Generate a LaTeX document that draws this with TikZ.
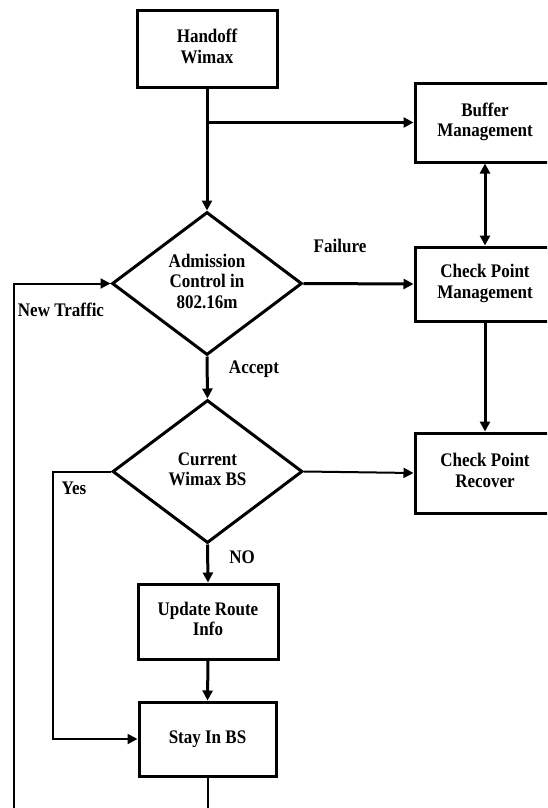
\documentclass[tikz,border=0pt]{standalone}
\usepackage{fontspec}
\usepackage{graphicx}
\setmainfont{Liberation Serif}
\usetikzlibrary{shapes.geometric,arrows.meta}
\newcommand\vtxt[1]{\scalebox{1}[1.13]{\begin{tabular}{@{}c@{}}#1\end{tabular}}}
\begin{document}
\begin{tikzpicture}[x=1pt,y=-1pt,
  every node/.style={font=\fontsize{17}{18.2}\selectfont\bfseries},
  boxnode/.style={draw,line width=3pt,rectangle,minimum width=140pt,inner sep=0pt},
  decnode/.style={draw,line width=3pt,diamond,aspect=1.33,inner sep=0pt,minimum width=190pt,minimum height=143pt},
  lbl/.style={inner sep=0pt},
  thickline/.style={line width=3pt},
  thinline/.style={line width=2pt},
  arr/.style={-{Triangle[length=10pt,width=10pt]}},
  darr/.style={{Triangle[length=10pt,width=10pt]}-{Triangle[length=10pt,width=10pt]}}
]
\path[use as bounding box] (0,0) rectangle (547,808);
\clip (0,0) rectangle (547,808);
\node[boxnode,minimum height=76pt] (handoff) at (207,49) {\vtxt{Handoff\\Wimax}};
\node[boxnode,minimum height=79pt] (buffer) at (485,122.5) {\vtxt{Buffer\\Management}};
\node[boxnode,minimum height=74pt] (cpm) at (485,284) {\vtxt{Check Point\\Management}};
\node[boxnode,minimum height=80pt] (cpr) at (485,473) {\vtxt{Check Point\\Recover}};
\node[decnode] (adm) at (207,283.5) {\vtxt{Admission\\Control in\\802.16m}};
\node[decnode] (cur) at (207.5,471.5) {\vtxt{Current\\Wimax BS}};
\node[boxnode,minimum height=75pt] (upd) at (208,621.5) {\vtxt{Update Route\\Info}};
\node[boxnode,minimum width=137pt,minimum height=74pt] (stay) at (207.5,739) {\vtxt{Stay In BS}};

\node[lbl] (failure) at (340,248) {\vtxt{Failure}};
\node[lbl] (newtraffic) at (61,312) {\vtxt{New Traffic}};
\node[lbl] (accept) at (254,369) {\vtxt{Accept}};
\node[lbl] (yes) at (74,490) {\vtxt{Yes}};
\node[lbl] (no) at (242,559) {\vtxt{NO}};

\coordinate (ntbot) at (14,815);
\coordinate (yc) at (53,471.5);
\coordinate (staybot) at (207.5,815);

\draw[thickline,arr] (handoff.south) -- (adm.north);
\draw[thickline,arr] (handoff.south |- buffer.west) -- (buffer.west);
\draw[thickline,darr] (buffer.south) -- (cpm.north);
\draw[thickline,arr] (adm.east) -- (cpm.west);
\draw[thinline,arr] (ntbot) |- (adm.west);
\draw[thickline,arr] (adm.south) -- (cur.north);
\draw[thickline,arr] (cpm.south) -- (cpr.north);
\draw[thinline,arr] (cur.east) -- (cpr.west);
\draw[thinline,arr] (cur.west) -- (yc) |- (stay.west);
\draw[thickline,arr] (cur.south) -- (upd.north);
\draw[thickline,arr] (upd.south) -- (stay.north);
\draw[thinline] (stay.south) -- (staybot);
\end{tikzpicture}
\end{document}
